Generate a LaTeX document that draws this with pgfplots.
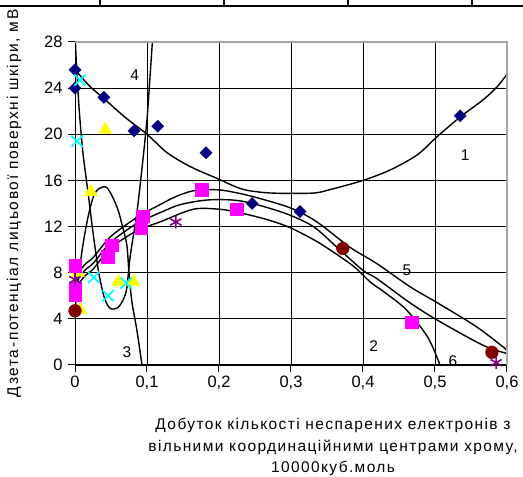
\documentclass[border=0pt]{standalone}
\usepackage{fontspec}
\setmainfont{Liberation Sans}
\newfontfamily\widex[LetterSpace=9]{Liberation Sans}
\newfontfamily\widey[LetterSpace=10.5]{Liberation Sans}
\usepackage{pgfplots}
\pgfplotsset{compat=1.18}
\definecolor{navy}{HTML}{000080}
\definecolor{mag}{HTML}{FF00FF}
\definecolor{yel}{HTML}{FFFF00}
\definecolor{cya}{HTML}{00FFFF}
\definecolor{dred}{HTML}{800000}
\definecolor{purp}{HTML}{800080}
\begin{document}
\begin{tikzpicture}[x=1pt,y=1pt,font=\fontsize{15.5}{18}\selectfont]
\draw[line width=2] (0,471) -- (523,471);
\foreach \xx in {100,224,348,472} \draw[line width=1.5] (\xx,477) -- (\xx,471);
\begin{axis}[
  at={(75pt,112pt)}, anchor=south west, scale only axis,
  width=432pt, height=323pt,
  xmin=0, xmax=0.6, ymin=0, ymax=28,
  axis x line*=bottom, axis y line*=left,
  axis line style={black, line width=1pt, -},
  tick align=outside, major tick length=7pt,
  tick style={black, line width=1pt},
  xtick={0,0.1,0.2,0.3,0.4,0.5,0.6},
  xticklabels={0,{0,1},{0,2},{0,3},{0,4},{0,5},{0,6}},
  ytick={0,4,8,12,16,20,24,28},
  grid=major, grid style={black, line width=0.8pt},
  /pgf/number format/assume math mode=true,
  tick label style={font=\fontsize{16.5}{19}\selectfont},
  yticklabel style={xshift=-2pt},
  clip mode=individual,
]
% curves
\addplot[black, line width=1.4pt, smooth] coordinates {(0,25.6)(0.02,24.2)(0.042,23.0)(0.069,21.5)(0.1,20.0)(0.128,18.4)(0.16,17.2)(0.2,16.1)(0.225,15.4)(0.243,15.1)(0.275,14.9)(0.33,14.9)(0.354,15.2)(0.4,16.0)(0.4375,16.9)(0.475,18.2)(0.503,19.8)(0.535,21.5)(0.567,23.0)(0.586,24.1)(0.6,25.2)};
\addplot[black, line width=1.4pt, smooth] coordinates {(0,7.2)(0.005,8.0)(0.015,8.8)(0.025,9.3)(0.049,11.1)(0.079,12.5)(0.1,13.3)(0.118,13.9)(0.14,14.6)(0.164,15.1)(0.19,15.2)(0.21,15.1)(0.247,14.6)(0.3,13.6)(0.336,12.4)(0.382,10.2)(0.419,8.8)(0.465,6.8)(0.503,5.4)(0.558,3.3)(0.6,1.3)};
\addplot[black, line width=1.4pt, smooth] coordinates {(0,6.6)(0.005,7.5)(0.015,8.3)(0.025,8.8)(0.049,10.6)(0.079,12.0)(0.1,12.7)(0.118,13.2)(0.146,13.9)(0.183,14.3)(0.219,14.3)(0.247,14.0)(0.294,13.1)(0.331,12.0)(0.364,10.2)(0.4,8.2)(0.419,7.5)(0.465,5.4)(0.503,3.9)(0.567,1.7)(0.6,1.0)};
\addplot[black, line width=1.4pt, smooth] coordinates {(0,6.0)(0.005,7.0)(0.015,7.8)(0.025,8.3)(0.049,10.1)(0.079,11.4)(0.1,12.0)(0.118,12.4)(0.164,13.5)(0.201,13.5)(0.229,13.2)(0.267,12.6)(0.299,11.9)(0.336,10.7)(0.368,9.4)(0.39,8.4)(0.41,7.2)(0.43,6.3)(0.46,4.8)(0.49,2.4)(0.507,0)(0.512,-1)};
\addplot[black, line width=1.4pt, smooth] coordinates {(0,4.7)(0.004,7)(0.01,10)(0.017,12.5)(0.024,14.3)(0.03,15.1)(0.037,15.4)(0.044,15.4)(0.052,14.6)(0.06,13.4)(0.066,12.0)(0.072,10.4)(0.075,8.0)(0.079,5.5)(0.086,3.0)(0.093,0)(0.096,-1.5)};
\addplot[black, line width=1.4pt, smooth] coordinates {(0,29)(0.002,26)(0.006,22)(0.011,18.4)(0.018,15)(0.025,11.5)(0.033,8)(0.041,5.8)(0.049,4.9)(0.06,5.0)(0.068,5.8)(0.072,6.7)(0.076,9.1)(0.081,11.2)(0.086,13.2)(0.094,17.6)(0.1,21.3)(0.104,24.8)(0.108,28.5)};
% markers
\addplot[only marks, mark=square*, mark size=4.3pt, mark options={rotate=45, fill=navy, draw=navy}] coordinates {(0,25.6)(0,24.0)(0.04,23.2)(0.082,20.3)(0.115,20.7)(0.182,18.4)(0.246,14.0)(0.3125,13.3)(0.535,21.6)};
\addplot[only marks, mark=triangle*, mark size=7.6pt, mark options={fill=yel, draw=yel}] coordinates {(0.042,20.4)(0.022,15.0)(0.06,7.2)(0.081,7.2)(0.004,8.0)(0.007,4.8)};
\addplot[only marks, mark=square*, mark size=6.3pt, mark options={fill=mag, draw=mag}] coordinates {(0,8.6)(0,6.6)(0,6.1)(0.045,9.4)(0.051,10.4)(0.092,11.9)(0.094,12.9)(0.176,15.2)(0.225,13.5)(0.468,3.7)};
\addplot[only marks, mark=x, mark size=8pt, mark options={draw=cya, line width=1.8pt}] coordinates {(0.007,24.7)(0.003,19.4)(0.026,7.6)(0.046,6.0)(0.071,7.1)};
\addplot[only marks, mark=*, mark size=6.4pt, mark options={fill=dred, draw=dred}] coordinates {(0,4.7)(0.372,10.1)(0.579,1.1)};
\addplot[only marks, mark=asterisk, mark size=6.5pt, mark options={draw=purp, line width=1.6pt}] coordinates {(0,7.4)(0.14,12.4)(0.585,0.2)};
% frame top/right
\draw[gray!70, line width=1.6pt] (rel axis cs:0,1) -- (rel axis cs:1,1) -- (rel axis cs:1,0);
% curve labels
\node at (axis cs:0.542,18.2) {1};
\node at (axis cs:0.415,1.6) {2};
\node at (axis cs:0.072,1.1) {3};
\node at (axis cs:0.083,25.1) {4};
\node at (axis cs:0.461,8.2) {5};
\node at (axis cs:0.525,0.3) {6};
\end{axis}
\node[rotate=90, font=\widey\fontsize{15.5}{18}\selectfont] at (14,273.5) {Дзета-потенціал лицьової поверхні шкіри, мВ};
\node[align=center, font=\widex\fontsize{15.5}{21.5}\selectfont] at (333,30) {Добуток кількості неспарених електронів з\\вільними координаційними центрами хрому,\\10000куб.моль};
\pgfresetboundingbox
\path[use as bounding box] (0,0) rectangle (523,477);
\end{tikzpicture}
\end{document}
